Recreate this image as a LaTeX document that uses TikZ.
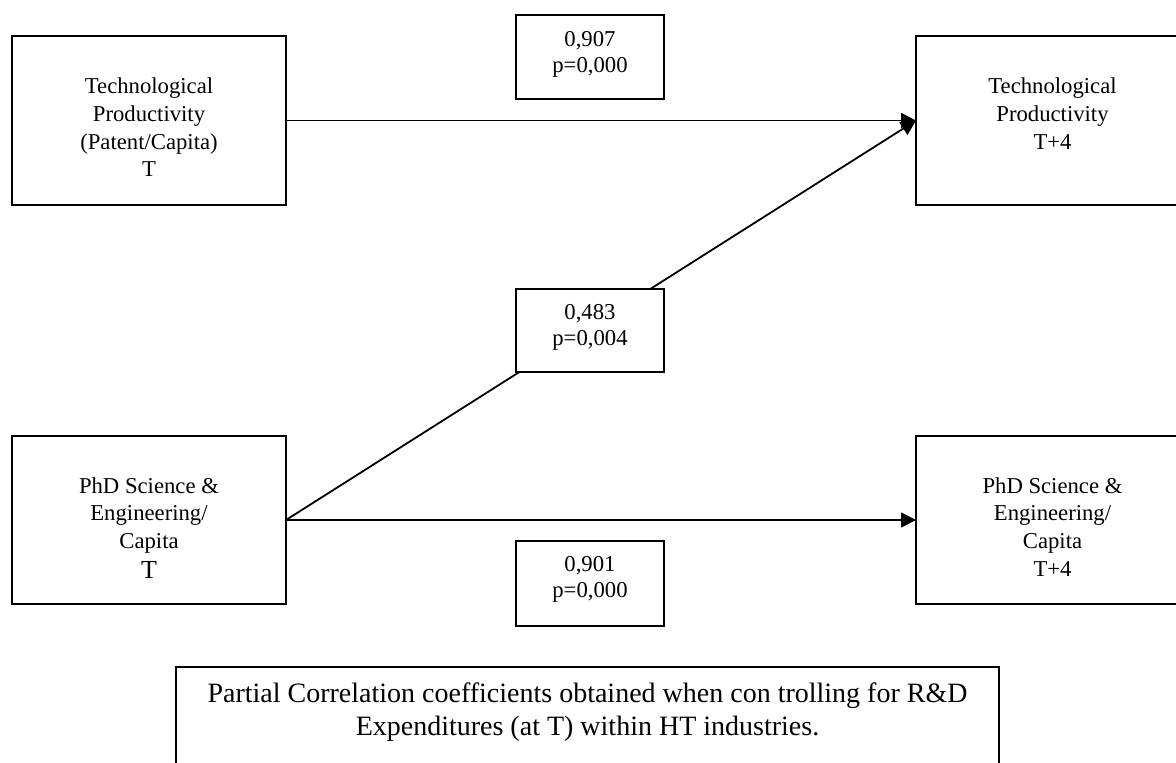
\documentclass[tikz,border=0pt]{standalone}
\usepackage{fontspec}
\setmainfont{Liberation Serif}
\usetikzlibrary{arrows.meta,backgrounds}
\setlength{\parskip}{0pt}
\setlength{\parindent}{0pt}
\newcommand{\boxcontent}[4]{\begin{minipage}[c][#2][t]{#1}\centering\vspace*{#3}#4\end{minipage}}
\newcommand{\boxfont}{\fontsize{22.7}{27.7}\selectfont}
\newcommand{\numfont}{\fontsize{22.7}{26}\selectfont}
\begin{document}
\begin{tikzpicture}[x=1pt,y=-1pt,
  box/.style={draw, line width=1.8pt, inner sep=0pt, outer sep=0pt, fill=white},
  arr/.style={line width=1.8pt, -{Triangle[length=15pt,width=15pt]}}]
\useasboundingbox (0,0) rectangle (1176,763);
% main boxes
\node[box] (tl) at (149,120.5) {\boxcontent{274pt}{169pt}{42pt}{\boxfont Technological\par Productivity\par (Patent/Capita)\par T\par}};
\node[box] (tr) at (1052.5,120.5) {\boxcontent{273pt}{169pt}{42pt}{\boxfont Technological\par Productivity\par T+4\par}};
\node[box] (bl) at (149,520) {\boxcontent{274pt}{168pt}{41.5pt}{\boxfont PhD Science \&\par Engineering/\par Capita\par {\fontsize{26}{30}\selectfont T\par}}};
\node[box] (br) at (1052.5,520) {\boxcontent{273pt}{168pt}{41.5pt}{\boxfont PhD Science \&\par Engineering/\par Capita\par T+4\par}};
% coefficient boxes
\node[box] (c1) at (590,57) {\boxcontent{148pt}{84pt}{16.5pt}{\numfont 0,907\par p=0,000\par}};
\node[box] (c2) at (590,330.5) {\boxcontent{148pt}{83pt}{15.7pt}{\numfont 0,483\par p=0,004\par}};
\node[box] (c3) at (590,583.5) {\boxcontent{148pt}{85pt}{15.7pt}{\numfont 0,901\par p=0,000\par}};
% caption box
\node[box] (cap) at (587.5,733.5) {\boxcontent{823pt}{133pt}{15.5pt}{\fontsize{28}{33}\selectfont Partial Correlation coefficients obtained when con trolling for R\&D\par Expenditures (at T) within HT industries.\par}};
% connectors
\draw[arr] (tl.east) -- (tr.west);
\draw[arr] (bl.east) -- (br.west);
\begin{pgfonlayer}{background}
\draw[arr] (bl.east) -- (tr.west);
\end{pgfonlayer}
\end{tikzpicture}
\end{document}
